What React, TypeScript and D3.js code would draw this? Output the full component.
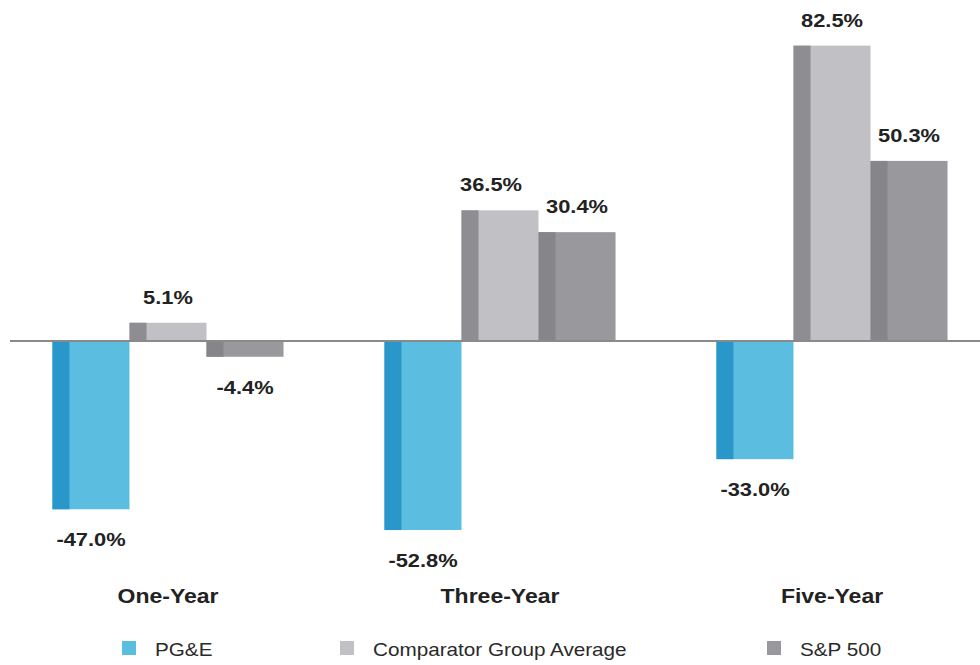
import React from "react";
import * as d3 from "d3";

const categories = ["One-Year", "Three-Year", "Five-Year"];
const seriesNames = ["PG&E", "Comparator Group Average", "S&P 500"];
const pgeValues = [-47.0, -52.8, -33.0];
const comparatorValues = [5.1, 36.5, 82.5];
const spValues = [-4.4, 30.4, 50.3];
const valueLabels = [
  ["-47.0%", "-52.8%", "-33.0%"],
  ["5.1%", "36.5%", "82.5%"],
  ["-4.4%", "30.4%", "50.3%"],
];

const W = 980;
const H = 665;
const frontColors = ["#5bbde0", "#c1c0c5", "#99989d"];
const sideColors = ["#2a97cb", "#8e8d92", "#86858a"];
const legendX = [122, 340, 767];
const SX = 1.15;

export default function App() {
  const series = [pgeValues, comparatorValues, spValues];
  const x0 = d3
    .scaleBand<string>()
    .domain(categories)
    .range([2, 998])
    .paddingInner(0.304)
    .paddingOuter(0.152);
  const x1 = d3
    .scaleBand<number>()
    .domain([0, 1, 2])
    .range([0, x0.bandwidth()]);
  const k = 3.58;
  const base = 341;
  const y = d3.scaleLinear().domain([-55, 85]).range([base + 55 * k, base - 85 * k]);
  const bw = x1.bandwidth();
  const side = 17;

  const text = (
    key: string,
    cx: number,
    by: number,
    s: string,
    size: number,
    weight: string,
    anchor: string = "middle",
    fill: string = "#222"
  ) => (
    <text
      key={key}
      transform={`translate(${cx},${by}) scale(${SX},1)`}
      textAnchor={anchor}
      fontFamily="'Liberation Sans', Arial, sans-serif"
      fontSize={size}
      fontWeight={weight}
      fill={fill}
    >
      {s}
    </text>
  );

  return (
    <svg
      width={W}
      height={H}
      style={{ position: "absolute", left: 0, top: 0, background: "#fff" }}
    >
      {categories.map((c, ci) =>
        series.map((vals, si) => {
          const v = vals[ci];
          const xs = (x0(c) as number) + (x1(si) as number);
          const yTop = v >= 0 ? y(v) : y(0);
          const h = Math.abs(y(v) - y(0));
          return (
            <g key={`${ci}-${si}`}>
              <rect x={xs} y={yTop} width={bw} height={h} fill={frontColors[si]} />
              <rect x={xs} y={yTop} width={side} height={h} fill={sideColors[si]} />
            </g>
          );
        })
      )}
      <line x1={10} x2={980} y1={y(0)} y2={y(0)} stroke="#8a8a8a" strokeWidth={2} />
      {categories.map((c, ci) =>
        series.map((vals, si) => {
          const v = vals[ci];
          const xs = (x0(c) as number) + (x1(si) as number) + bw / 2;
          const nudge = ci === 1 && si === 1 ? -9 : 0;
          const by = v >= 0 ? y(v) - 19 : y(v) + 37;
          return text(`l-${ci}-${si}`, xs + nudge, by, valueLabels[si][ci], 19, "bold");
        })
      )}
      {categories.map((c) =>
        text(`c-${c}`, (x0(c) as number) + x0.bandwidth() / 2, 603, c, 20, "bold")
      )}
      {seriesNames.map((n, i) => (
        <g key={`lg-${i}`}>
          <rect x={legendX[i]} y={641} width={14} height={14} fill={frontColors[i]} />
          {text(`lt-${i}`, legendX[i] + 33, 656, n, 18, "normal", "start", "#2a2a2a")}
        </g>
      ))}
    </svg>
  );
}
